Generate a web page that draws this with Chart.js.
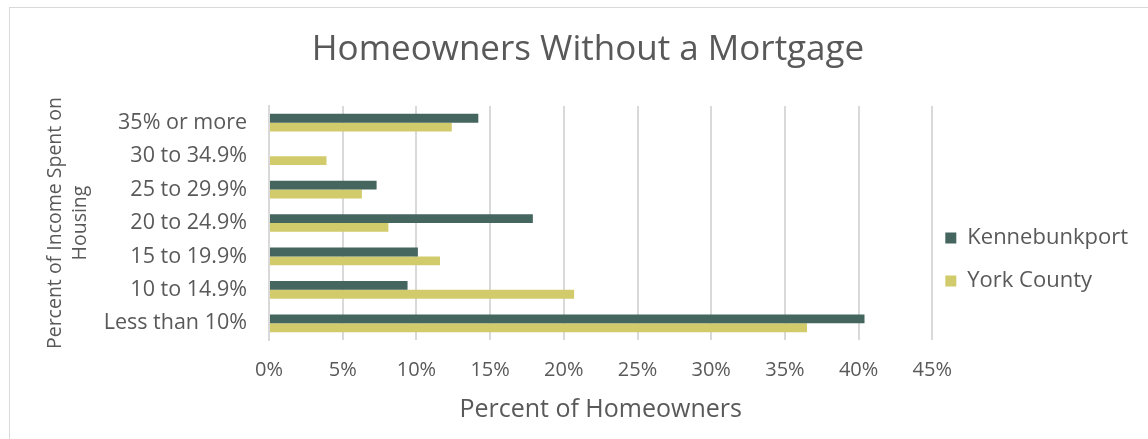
<!DOCTYPE html>
<html>
<head>
<meta charset="utf-8">
<script src="https://cdn.jsdelivr.net/npm/chart.js@4/dist/chart.umd.min.js"></script>
<style>
  html, body { margin: 0; padding: 0; background: #fff; }
  #wrap { position: relative; width: 1148px; height: 439px; overflow: hidden; }
  #frame { position: absolute; left: 9px; top: 7px; width: 1160px; height: 460px; border: 1px solid #d9d9d9; box-sizing: border-box; }
  #chart { position: absolute; left: 0; top: 0; }
</style>
</head>
<body>
<div id="wrap">
  <div id="frame"></div>
  <canvas id="chart" width="1148" height="439"></canvas>
</div>
<script>
// share of income spent on housing, top row first
const categories = [
  "35% or more",
  "30 to 34.9%",
  "25 to 29.9%",
  "20 to 24.9%",
  "15 to 19.9%",
  "10 to 14.9%",
  "Less than 10%",
];
const kennebunkport = [14.2, 0, 7.3, 17.9, 10.1, 9.4, 40.4];
const yorkCounty = [12.4, 3.9, 6.3, 8.1, 11.6, 20.7, 36.5];
const xTicks = [0, 5, 10, 15, 20, 25, 30, 35, 40, 45];

const textColor = "#595959";
const fontFamily = "'Open Sans', sans-serif";

// nudge the legend box after layout (x left a little, y down toward the bars)
const legendNudge = {
  id: "legendNudge",
  afterLayout(chart) {
    const lg = chart.legend;
    const dx = -8;
    const dy = 43;
    lg.left += dx;
    lg.right += dx;
    lg.top += dy;
    lg.bottom += dy;
  },
};

const ctx = document.querySelector("#chart").getContext("2d");

new Chart(ctx, {
  type: "bar",
  data: {
    labels: categories,
    datasets: [
      {
        label: "Kennebunkport",
        data: kennebunkport,
        backgroundColor: "#45665f",
        borderWidth: 0,
      },
      {
        label: "York County",
        data: yorkCounty,
        backgroundColor: "#d2cb6c",
        borderWidth: 0,
      },
    ],
  },
  plugins: [legendNudge],
  options: {
    indexAxis: "y",
    responsive: false,
    animation: false,
    layout: { padding: { left: 30, right: 2, top: 8, bottom: 14 } },
    datasets: {
      bar: { barPercentage: 1, categoryPercentage: 0.53 },
    },
    scales: {
      x: {
        min: 0,
        max: 45,
        afterBuildTicks: (axis) => {
          axis.ticks = xTicks.map((v) => ({ value: v }));
        },
        // fixed height so the tick row and axis title sit where we want them
        afterFit: (axis) => {
          axis.height = 85;
        },
        grid: { color: "#d9d9d9", lineWidth: 2, drawTicks: false },
        border: { display: false },
        ticks: {
          color: textColor,
          font: { family: fontFamily, size: 20 },
          padding: 18,
          callback: (v) => v + "%",
        },
        title: {
          display: true,
          text: "Percent of Homeowners",
          color: textColor,
          font: { family: fontFamily, size: 25 },
          padding: { top: 0, bottom: 0 },
        },
      },
      y: {
        afterFit: (axis) => {
          axis.width = 239;
        },
        grid: { display: false, drawTicks: false },
        border: { display: true, color: "#d9d9d9", width: 2 },
        ticks: {
          color: textColor,
          font: { family: fontFamily, size: 21.5 },
          padding: 22,
        },
        title: {
          display: true,
          text: ["Percent of Income Spent on", "Housing"],
          color: textColor,
          font: { family: fontFamily, size: 19.5, lineHeight: 1.33 },
          padding: { top: 12, bottom: 0 },
        },
      },
    },
    plugins: {
      title: {
        display: true,
        text: "Homeowners Without a Mortgage",
        color: textColor,
        font: { family: fontFamily, size: 35, weight: "normal" },
        padding: { top: 21, bottom: 35 },
      },
      legend: {
        position: "right",
        labels: {
          color: textColor,
          font: { family: fontFamily, size: 22 },
          boxWidth: 11,
          boxHeight: 11,
          padding: 21,
        },
      },
      tooltip: { enabled: false },
    },
  },
});
</script>
</body>
</html>
